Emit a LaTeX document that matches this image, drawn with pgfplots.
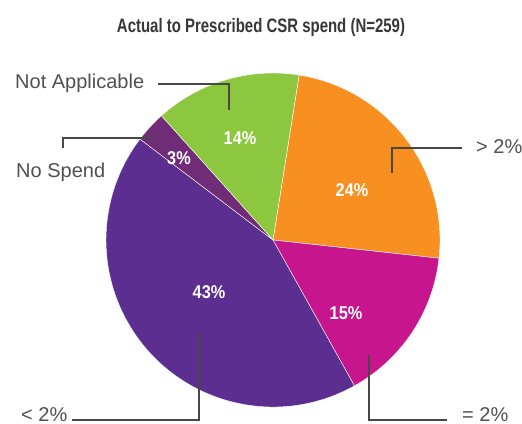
\documentclass[border=0pt]{standalone}
\usepackage{pgfplots}
\pgfplotsset{compat=1.18}
\usepackage{fontspec}
\setmainfont{Liberation Sans}
\usepackage{graphicx}
\definecolor{cOrange}{RGB}{247,144,32}
\definecolor{cPink}{RGB}{199,22,141}
\definecolor{cPurple}{RGB}{91,46,143}
\definecolor{cDark}{RGB}{113,44,120}
\definecolor{cGreen}{RGB}{141,198,63}
\definecolor{cLine}{RGB}{72,72,72}
\definecolor{cText}{RGB}{80,80,80}
\definecolor{cTitle}{RGB}{55,55,55}
% pie data: value (percent) and colour, clockwise from the start angle
\def\total{99}
\def\s{81}
\newcommand\slice[2]{%
  \pgfmathsetmacro\e{\s-#1*360/\total}%
  \edef\temp{\noexpand\fill[#2,draw=white,line width=0.4bp] (axis cs:273,184) -- ++(\s:167bp) arc[start angle=\s,end angle=\e,radius=167bp] -- cycle;}%
  \temp
  \global\let\s\e}
\newcommand\pct[1]{\scalebox{0.88}[1]{\fontsize{18.5bp}{20bp}\selectfont\bfseries #1}}
\begin{document}
\begin{tikzpicture}
\begin{axis}[
  width=522bp, height=424bp, scale only axis,
  xmin=0, xmax=522, ymin=0, ymax=424,
  hide axis, clip=false,
]
\slice{24}{cOrange}
\slice{15}{cPink}
\slice{43}{cPurple}
\slice{3}{cDark}
\slice{14}{cGreen}
% percentages
\node[white] at (axis cs:352,234) {\pct{24\%}};
\node[white] at (axis cs:346,111) {\pct{15\%}};
\node[white] at (axis cs:209,132) {\pct{43\%}};
\node[white] at (axis cs:179,266) {\pct{3\%}};
\node[white] at (axis cs:240,286) {\pct{14\%}};
% title
\node[anchor=base, text=cTitle] at (axis cs:261,391) {\resizebox{288bp}{\height}{\fontsize{19.5bp}{22bp}\selectfont\bfseries Actual to Prescribed CSR spend (N=259)}};
% leader lines
\draw[cLine, line width=2bp] (axis cs:158,340) -- (axis cs:229,340) -- (axis cs:229,314);
\draw[cLine, line width=2bp] (axis cs:63,276) -- (axis cs:63,286) -- (axis cs:153,286);
\draw[cLine, line width=2bp] (axis cs:392,251) -- (axis cs:392,276) -- (axis cs:462,276);
\draw[cLine, line width=2bp] (axis cs:199,90) -- (axis cs:199,4) -- (axis cs:72,4);
\draw[cLine, line width=2bp] (axis cs:369,69) -- (axis cs:369,4) -- (axis cs:447,4);
% labels
\node[anchor=base west, inner sep=0pt, text=cText] at (axis cs:15,335) {\fontsize{20bp}{24bp}\selectfont Not Applicable};
\node[anchor=base west, inner sep=0pt, text=cText] at (axis cs:16,246) {\fontsize{20bp}{24bp}\selectfont No Spend};
\node[anchor=base west, inner sep=0pt, text=cText] at (axis cs:476,270) {\fontsize{20bp}{24bp}\selectfont > 2\%};
\node[anchor=base west, inner sep=0pt, text=cText] at (axis cs:21,3) {\fontsize{20bp}{24bp}\selectfont < 2\%};
\node[anchor=base west, inner sep=0pt, text=cText] at (axis cs:462,3) {\fontsize{20bp}{24bp}\selectfont = 2\%};
\end{axis}
\pgfresetboundingbox
\useasboundingbox (current axis.south west) rectangle (current axis.north east);
\end{tikzpicture}
\end{document}
